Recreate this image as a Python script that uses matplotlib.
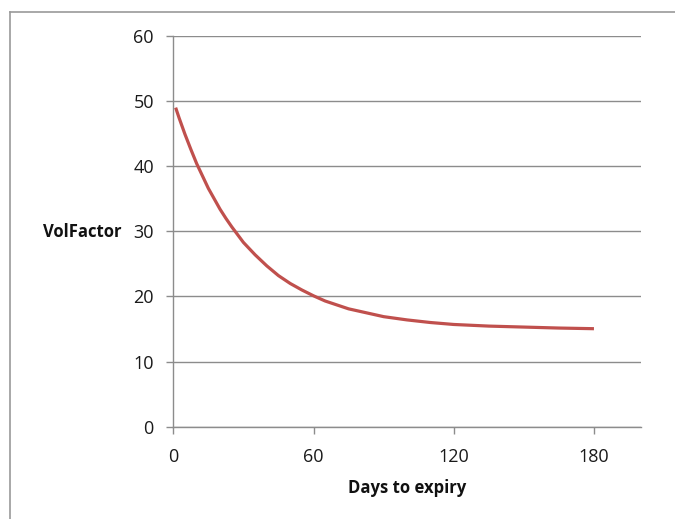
import matplotlib
matplotlib.use("Agg")
import matplotlib.pyplot as plt
from matplotlib.lines import Line2D

# Data
days = [1, 2.5, 5, 7.5, 10, 12.5, 15, 17.5, 20, 22.5, 25, 27.5, 30, 35, 40, 45, 50, 55, 60,
        65, 70, 75, 80, 90, 100, 110, 120, 135, 150, 165, 180]
volfactor = [49.0, 47.4, 44.9, 42.6, 40.4, 38.5, 36.6, 35.0, 33.4, 32.0, 30.7, 29.5, 28.3,
             26.4, 24.7, 23.2, 22.0, 21.0, 20.1, 19.3, 18.7, 18.1, 17.7, 16.9, 16.4, 16.0,
             15.7, 15.45, 15.3, 15.15, 15.05]
x_ticks = [0, 60, 120, 180]
y_ticks = [0, 10, 20, 30, 40, 50, 60]
x_label = "Days to expiry"
y_label = "VolFactor"

plt.rcParams['font.family'] = ['Open Sans', 'DejaVu Sans']

W, H = 675, 519
fig = plt.figure(figsize=(W / 100, H / 100), dpi=100)
ax = fig.add_axes([173.3 / W, 1 - 426.7 / H, (640.7 - 173.3) / W, (426.7 - 36) / H])

ax.plot(days, volfactor, color='#C0504D', lw=2.3, solid_capstyle='butt',
        solid_joinstyle='round')

ax.set_xlim(0, 200)
ax.set_ylim(0, 60)
ax.set_xticks(x_ticks)
ax.set_yticks(y_ticks)
grid_c = '#8c8c8c'
ax.yaxis.grid(True, color=grid_c, lw=1.0)
ax.set_axisbelow(True)
for s in ['top', 'right']:
    ax.spines[s].set_visible(False)
for s in ['left', 'bottom']:
    ax.spines[s].set_color(grid_c)
    ax.spines[s].set_linewidth(1.0)
ax.tick_params(axis='both', direction='out', length=5, width=1.0, color=grid_c,
               labelsize=13, labelcolor='#1a1a1a')
ax.tick_params(axis='y', pad=9)
ax.tick_params(axis='x', pad=10)

fig.text(122 / W, 1 - 232 / H, y_label, ha='right', va='center', fontsize=12,
         fontweight='bold', color='#111111')
fig.text(407 / W, 1 - 488 / H, x_label, ha='center', va='center', fontsize=12,
         fontweight='bold', color='#111111')

# outer chart frame (left and top edges visible)
fx, fy = 10 / W, 1 - 12 / H
fig.add_artist(Line2D([fx, fx], [0, fy], transform=fig.transFigure, color='#9a9a9a', lw=1.2))
fig.add_artist(Line2D([fx, 1], [fy, fy], transform=fig.transFigure, color='#9a9a9a', lw=1.2))

fig.savefig('out.png', dpi=100)
